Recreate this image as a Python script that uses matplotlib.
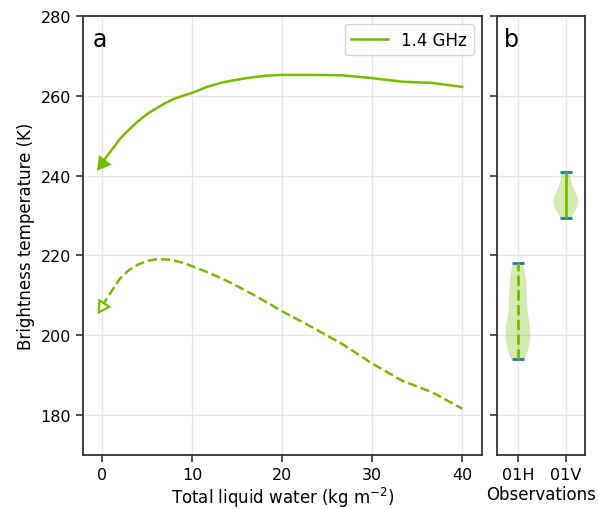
import matplotlib
matplotlib.use("Agg")
import matplotlib.pyplot as plt
import numpy as np

# total liquid water (kg m-2) and simulated brightness temperatures (K)
tlw = [0, 1, 2, 3, 4, 5, 6, 7, 8, 9, 10, 11.67, 13.33, 15, 16.67, 18.33, 20,
       23.33, 26.67, 30, 33.33, 36.67, 40]
tb_v = [243.2, 246.2, 249.2, 251.5, 253.6, 255.4, 256.8, 258.1, 259.2, 260.0, 260.7,
        262.2, 263.3, 264.0, 264.6, 265.0, 265.2, 265.2, 265.1, 264.4, 263.5, 263.2, 262.2]
tb_h = [207.3, 210.8, 214.2, 216.3, 217.7, 218.6, 219.0, 219.0, 218.7, 218.1, 217.3,
        215.8, 214.2, 212.3, 210.3, 208.2, 206.0, 202.0, 197.8, 192.9, 188.6, 185.7, 181.6]

# observed brightness temperatures (K)
obs_labels = ["01H", "01V"]
obs_h = [194, 196, 197.5, 198.5, 199.5, 200, 200.5, 201.5, 203, 205, 207.5, 209.5,
         211, 212.5, 214, 216, 218]
obs_v = [229.3, 231.5, 232.5, 233, 233.5, 234, 235, 236.5, 238.5, 241]

green = "#77bb00"
spine_col = "#333333"

fig = plt.figure(figsize=(5.98, 5.10), dpi=100)
ax1 = fig.add_axes([0.139, 0.106, 0.667, 0.861])
ax2 = fig.add_axes([0.831, 0.106, 0.147, 0.861], sharey=ax1)

# panel a
ax1.plot(tlw, tb_v, "-", color=green, lw=1.8, label="1.4 GHz")
ax1.plot(tlw, tb_h, "--", color=green, lw=1.8)

ax1.set_xlim(-2.1, 42.2)
ax1.set_ylim(170, 280)


def arrow_head(ax, xs, ys, filled):
    # triangle at the start of the curve, turned along the first segment
    p0 = ax.transData.transform((xs[0], ys[0]))
    p1 = ax.transData.transform((xs[1], ys[1]))
    ang = np.degrees(np.arctan2(p0[1] - p1[1], p0[0] - p1[0]))
    ax.plot(xs[0], ys[0], marker=(3, 0, ang - 90), ms=10, color=green,
            mfc=green if filled else "white", mec=green, mew=1.6, ls="none")


arrow_head(ax1, tlw, tb_v, True)
arrow_head(ax1, tlw, tb_h, False)

ax1.set_xticks([0, 10, 20, 30, 40])
ax1.set_yticks([180, 200, 220, 240, 260, 280])
ax1.set_xlabel("Total liquid water (kg m$^{-2}$)", fontsize=12, labelpad=2)
ax1.set_ylabel("Brightness temperature (K)", fontsize=12)
ax1.grid(True, color="#e6e6e6", lw=1)
ax1.set_axisbelow(True)
ax1.legend(loc="upper right", fontsize=12, handlelength=2.2)
ax1.text(0.025, 0.975, "a", transform=ax1.transAxes, fontsize=17, va="top", ha="left")

# panel b
parts = ax2.violinplot([obs_h, obs_v], positions=[0, 1], widths=0.52, showextrema=True)
for body in parts["bodies"]:
    body.set_facecolor(green)
    body.set_edgecolor("none")
    body.set_alpha(0.3)
parts["cbars"].set_color(green)
parts["cbars"].set_linewidth(2)
parts["cbars"].set_linestyle(["--", "-"])
parts["cmins"].set_linewidth(2)
parts["cmaxes"].set_linewidth(2)

ax2.set_xlim(-0.44, 1.4)
ax2.set_xticks([0, 1])
ax2.set_xticklabels(obs_labels)
ax2.set_xlabel("Observations", fontsize=12, labelpad=2)
ax2.tick_params(axis="y", labelleft=False)
ax2.grid(True, color="#e6e6e6", lw=1)
ax2.set_axisbelow(True)
ax2.text(0.08, 0.975, "b", transform=ax2.transAxes, fontsize=17, va="top", ha="left")

for ax in (ax1, ax2):
    ax.tick_params(labelsize=11.5, length=5, width=1.2, color=spine_col)
    for s in ax.spines.values():
        s.set_color(spine_col)
        s.set_linewidth(1.3)

fig.savefig("out.png", dpi=100)
